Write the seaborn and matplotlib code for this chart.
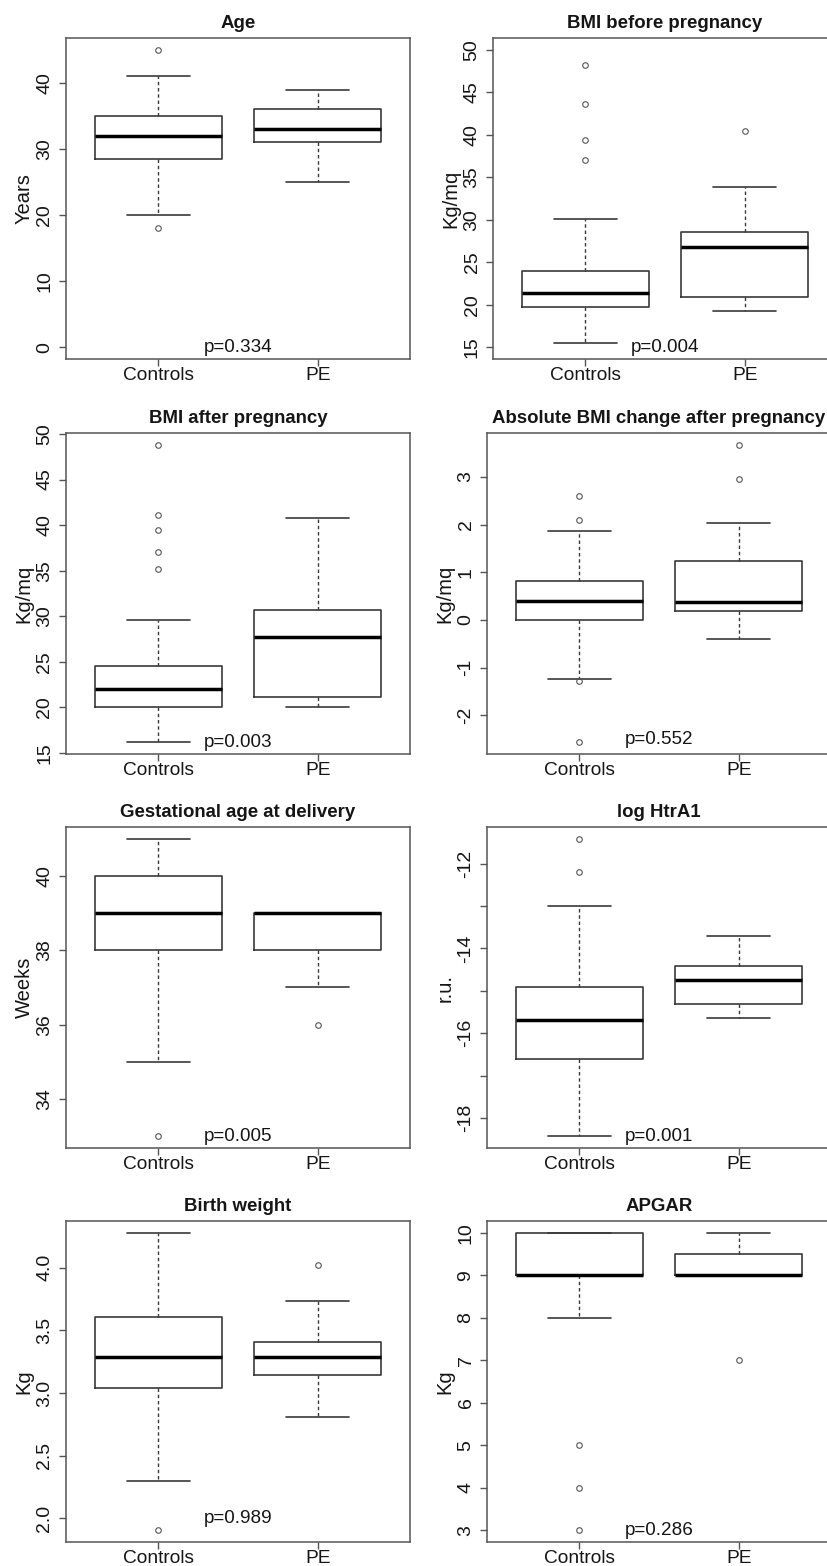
import matplotlib
matplotlib.use("Agg")
import matplotlib.pyplot as plt
import seaborn as sns
import numpy as np

# ---------------- data ----------------
titles = ["Age", "BMI before pregnancy", "BMI after pregnancy",
          "Absolute BMI change after pregnancy", "Gestational age at delivery",
          "log HtrA1", "Birth weight", "APGAR"]
ylabels = ["Years", "Kg/mq", "Kg/mq", "Kg/mq", "Weeks", "r.u.", "Kg", "Kg"]
p_values = ["p=0.334", "p=0.004", "p=0.003", "p=0.552",
            "p=0.005", "p=0.001", "p=0.989", "p=0.286"]
groups = ["Controls", "PE"]

# Controls: whisker low, Q1, median, Q3, whisker high, outliers
ctrl_whislo = [20, 15.45, 16.2, -1.24, 35, -18.42, 2.30, 8]
ctrl_q1     = [28.5, 19.7, 20.1, 0.0, 38, -16.61, 3.04, 9]
ctrl_med    = [32, 21.4, 22.0, 0.40, 39, -15.69, 3.285, 9]
ctrl_q3     = [35, 24.0, 24.6, 0.82, 40, -14.92, 3.61, 10]
ctrl_whishi = [41, 30.1, 29.6, 1.86, 41, -12.99, 4.28, 10]
ctrl_fliers = [[45, 18], [48.2, 43.6, 39.4, 37.0], [48.75, 41.1, 39.5, 37.1, 35.2],
               [2.6, 2.1, -1.28, -2.56], [33], [-11.42, -12.21], [1.907], [5, 4, 3]]

# PE
pe_whislo = [25, 19.2, 20.1, -0.40, 37, -15.65, 2.81, 9]
pe_q1     = [31, 20.9, 21.1, 0.19, 38, -15.31, 3.14, 9]
pe_med    = [33, 26.8, 27.75, 0.38, 39, -14.75, 3.285, 9]
pe_q3     = [36, 28.5, 30.7, 1.23, 39, -14.42, 3.41, 9.5]
pe_whishi = [39, 33.9, 40.8, 2.03, 39, -13.70, 3.73, 10]
pe_fliers = [[], [40.5], [], [2.965, 3.67], [36], [], [4.02], [7]]

# data range of each panel's y axis (R extends it by 4%)
y_ranges = [(0, 45), (15, 50), (16.2, 48.8), (-2.56, 3.67),
            (33, 41), (-18.42, -11.42), (1.907, 4.277), (3, 10)]
y_ticks = [[0, 10, 20, 30, 40], [15, 20, 25, 30, 35, 40, 45, 50],
           [15, 20, 25, 30, 35, 40, 45, 50], [-2, -1, 0, 1, 2, 3],
           [34, 36, 38, 40], [-18, -17, -16, -15, -14, -13, -12],
           [2.0, 2.5, 3.0, 3.5, 4.0], [3, 4, 5, 6, 7, 8, 9, 10]]
y_ticklabels = [["0", "10", "20", "30", "40"],
                ["15", "20", "25", "30", "35", "40", "45", "50"],
                ["15", "20", "25", "30", "35", "40", "45", "50"],
                ["-2", "-1", "0", "1", "2", "3"],
                ["34", "36", "38", "40"],
                ["-18", "", "-16", "", "-14", "", "-12"],
                ["2.0", "2.5", "3.0", "3.5", "4.0"],
                ["3", "4", "5", "6", "7", "8", "9", "10"]]
p_label_y = [0, 15, 16.2, -2.5, 33, -18.42, 2.0, 3]

# ---------------- styling ----------------
sns.set_theme(style="ticks")
plt.rcParams["font.family"] = ["Liberation Sans", "DejaVu Sans"]

W, H = 827, 1566
fig = plt.figure(figsize=(W / 100, H / 100), dpi=100)
fig.patch.set_facecolor("white")

row_tops = [38, 433, 827, 1221]
col_lefts = [66, 487]
ax_w, ax_h = 344, 321

line_col = "#3a3a3a"
frame_col = "#555555"
text_col = "#151515"

for i in range(8):
    r, c = divmod(i, 2)
    left = col_lefts[c] + (6 if (r == 0 and c == 1) else 0)
    top = row_tops[r]
    ax = fig.add_axes([left / W, 1 - (top + ax_h) / H, ax_w / W, ax_h / H])
    ax.set_facecolor("white")

    stats = [
        dict(whislo=ctrl_whislo[i], q1=ctrl_q1[i], med=ctrl_med[i], q3=ctrl_q3[i],
             whishi=ctrl_whishi[i], fliers=ctrl_fliers[i], label=groups[0]),
        dict(whislo=pe_whislo[i], q1=pe_q1[i], med=pe_med[i], q3=pe_q3[i],
             whishi=pe_whishi[i], fliers=pe_fliers[i], label=groups[1]),
    ]
    ax.bxp(stats, positions=[1, 2], widths=0.8, capwidths=0.4,
           boxprops=dict(color=line_col, linewidth=1.2),
           medianprops=dict(color="black", linewidth=2.5, solid_capstyle="butt"),
           whiskerprops=dict(color=line_col, linewidth=1.0, linestyle=(0, (2.5, 2))),
           capprops=dict(color=line_col, linewidth=1.2),
           flierprops=dict(marker="o", markersize=4, markerfacecolor="none",
                           markeredgecolor="#555555", markeredgewidth=0.8),
           manage_ticks=False)

    lo, hi = y_ranges[i]
    ext = 0.04 * (hi - lo)
    ax.set_ylim(lo - ext, hi + ext)
    ax.set_xlim(0.5 - 0.08, 2.5 + 0.08)

    ax.set_xticks([1, 2])
    ax.set_xticklabels(groups, fontsize=13.8)
    ax.set_yticks(y_ticks[i])
    ax.set_yticklabels(y_ticklabels[i], fontsize=14, rotation=90, va="center")

    ax.tick_params(axis="both", direction="out", length=5, width=1.0,
                   color=frame_col, labelcolor=text_col)
    ax.tick_params(axis="x", pad=1)
    ax.tick_params(axis="y", pad=4)

    for sp in ax.spines.values():
        sp.set_visible(True)
        sp.set_color(frame_col)
        sp.set_linewidth(1.1)

    ax.set_title(titles[i], fontsize=13.4, fontweight="bold", pad=7, color=text_col)
    ax.set_ylabel(ylabels[i], fontsize=14.5, labelpad=2, color=text_col)
    ax.text(1.5, p_label_y[i], p_values[i], ha="center", va="center",
            fontsize=13.6, color=text_col)

fig.savefig("out.png", dpi=100, facecolor="white")
